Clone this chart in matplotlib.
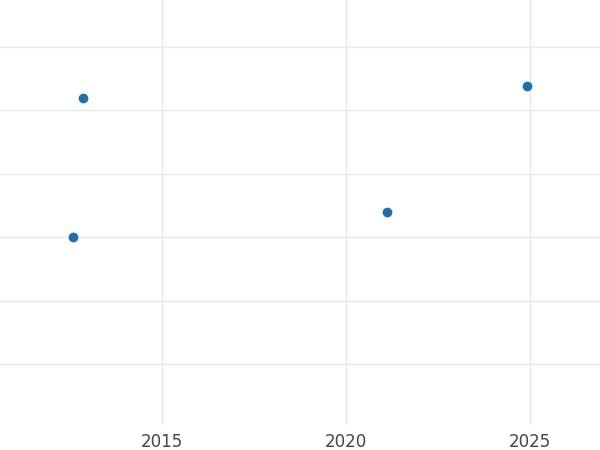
import matplotlib
matplotlib.use("Agg")
import matplotlib.pyplot as plt

years = [2012.85, 2012.58, 2021.12, 2024.92]
values = [5.19, 3.0, 3.40, 5.39]
xticks = [2015, 2020, 2025]
xtick_labels = ["2015", "2020", "2025"]

fig = plt.figure(figsize=(6, 4.5), dpi=100)
ax = fig.add_axes([0, 25/450, 1, 425/450])
ax.scatter(years, values, s=36, color="#1f6fad", zorder=3)
ax.set_xlim(2010.6, 2026.9)
ax.set_ylim(0.04, 6.74)
ax.set_xticks(xticks)
ax.set_xticklabels(xtick_labels)
ax.set_yticks([1, 2, 3, 4, 5, 6])
ax.set_yticklabels([])
ax.grid(True, color="#e8e8e8", linewidth=1)
ax.set_axisbelow(True)
for s in ax.spines.values():
    s.set_visible(False)
ax.tick_params(axis="both", length=0, labelsize=12, labelcolor="#444444")
ax.tick_params(axis="x", pad=6)
fig.savefig("out.png", dpi=100)
